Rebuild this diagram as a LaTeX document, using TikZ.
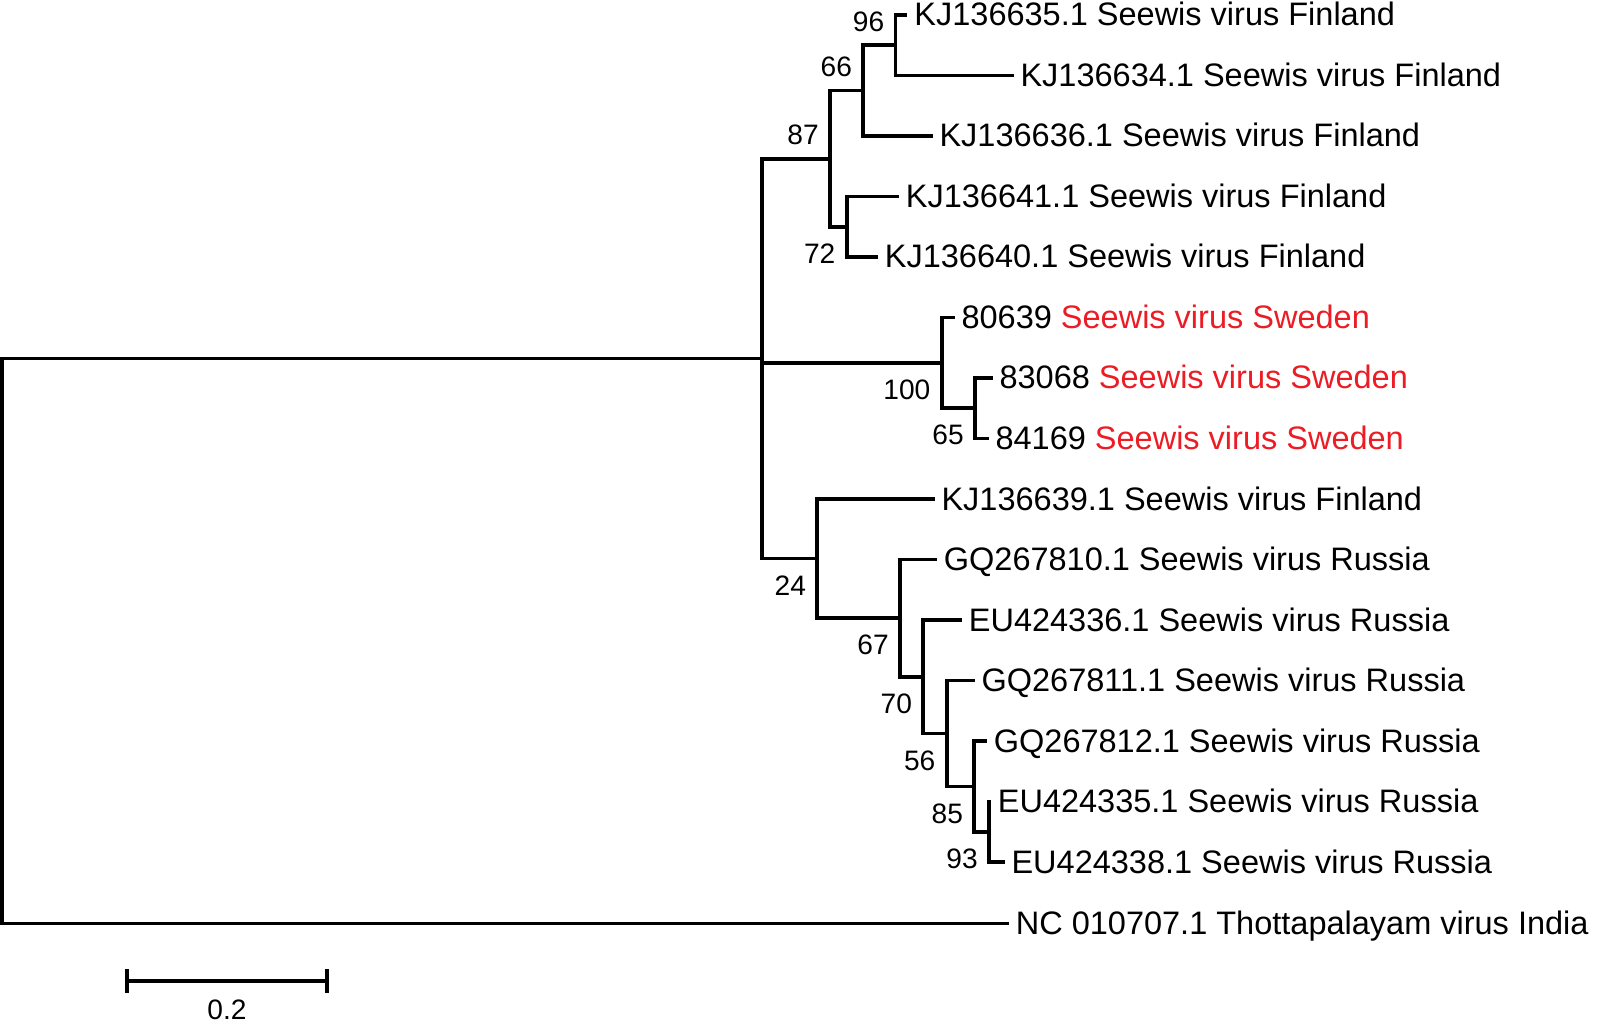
\documentclass[tikz,border=0pt]{standalone}
\usepackage{fontspec}
\setmainfont{Liberation Sans}
\definecolor{swred}{RGB}{236,28,36}
\begin{document}
\begin{tikzpicture}[x=0.02cm,y=-0.02cm,
  branch/.style={draw=black, line width=2.1pt, line cap=rect, line join=miter},
  taxon/.style={anchor=base west, inner sep=0pt, font=\fontsize{18.5pt}{22pt}\selectfont, xshift=0.17cm, yshift=-0.22cm},
  bsup/.style={anchor=base east, inner sep=0pt, font=\fontsize{16pt}{19pt}\selectfont, xshift=-0.22cm, yshift=0.28cm},
  bsdown/.style={anchor=base east, inner sep=0pt, font=\fontsize{16pt}{19pt}\selectfont, xshift=-0.22cm, yshift=-0.735cm}]
\useasboundingbox (0,0) rectangle (1600,1024);
% internal nodes
\coordinate (root) at (2,641);
\coordinate (nA) at (762.3,358.62);
\coordinate (n87) at (830,158.69);
\coordinate (n66) at (863.3,90.625);
\coordinate (n96) at (895.5,45.25);
\coordinate (n72) at (846.7,226.75);
\coordinate (n100) at (941.7,362.875);
\coordinate (n65) at (975,408.25);
\coordinate (n24) at (817.3,558.55);
\coordinate (n67) at (900,618.11);
\coordinate (n70) at (923.3,676.72);
\coordinate (n56) at (946.7,733.44);
\coordinate (n85) at (974.3,786.375);
\coordinate (n93) at (989,831.75);
% tips
\coordinate (t1) at (905.6,15);
\coordinate (t2) at (1011.7,75.5);
\coordinate (t3) at (930.7,136);
\coordinate (t4) at (897,196.5);
\coordinate (t5) at (876,257);
\coordinate (t6) at (952.7,317.5);
\coordinate (t7) at (990.7,378);
\coordinate (t8) at (986.7,438.5);
\coordinate (t9) at (932.7,499);
\coordinate (t10) at (935,559.5);
\coordinate (t11) at (960,620);
\coordinate (t12) at (972.7,680.5);
\coordinate (t13) at (985,741);
\coordinate (t14) at (989,801.5);
\coordinate (t15) at (1002.7,862);
\coordinate (t16) at (1007,923.5);
% branches
\draw[branch] (root) |- (nA);
\draw[branch] (root) |- (t16);
\draw[branch] (nA) |- (n87);
\draw[branch] (nA) |- (n100);
\draw[branch] (nA) |- (n24);
\draw[branch] (n87) |- (n66);
\draw[branch] (n87) |- (n72);
\draw[branch] (n66) |- (n96);
\draw[branch] (n66) |- (t3);
\draw[branch] (n96) |- (t1);
\draw[branch] (n96) |- (t2);
\draw[branch] (n72) |- (t4);
\draw[branch] (n72) |- (t5);
\draw[branch] (n100) |- (t6);
\draw[branch] (n100) |- (n65);
\draw[branch] (n65) |- (t7);
\draw[branch] (n65) |- (t8);
\draw[branch] (n24) |- (t9);
\draw[branch] (n24) |- (n67);
\draw[branch] (n67) |- (t10);
\draw[branch] (n67) |- (n70);
\draw[branch] (n70) |- (t11);
\draw[branch] (n70) |- (n56);
\draw[branch] (n56) |- (t12);
\draw[branch] (n56) |- (n85);
\draw[branch] (n85) |- (t13);
\draw[branch] (n85) |- (n93);
\draw[branch] (n93) |- (t14);
\draw[branch] (n93) |- (t15);
% taxon labels
\node[taxon] (l1) at (t1) {KJ136635.1 Seewis virus Finland};
\node[taxon] (l2) at (t2) {KJ136634.1 Seewis virus Finland};
\node[taxon] (l3) at (t3) {KJ136636.1 Seewis virus Finland};
\node[taxon] (l4) at (t4) {KJ136641.1 Seewis virus Finland};
\node[taxon] (l5) at (t5) {KJ136640.1 Seewis virus Finland};
\node[taxon] (l6) at (t6) {80639 \textcolor{swred}{Seewis virus Sweden}};
\node[taxon] (l7) at (t7) {83068 \textcolor{swred}{Seewis virus Sweden}};
\node[taxon] (l8) at (t8) {84169 \textcolor{swred}{Seewis virus Sweden}};
\node[taxon] (l9) at (t9) {KJ136639.1 Seewis virus Finland};
\node[taxon] (l10) at (t10) {GQ267810.1 Seewis virus Russia};
\node[taxon] (l11) at (t11) {EU424336.1 Seewis virus Russia};
\node[taxon] (l12) at (t12) {GQ267811.1 Seewis virus Russia};
\node[taxon] (l13) at (t13) {GQ267812.1 Seewis virus Russia};
\node[taxon] (l14) at (t14) {EU424335.1 Seewis virus Russia};
\node[taxon] (l15) at (t15) {EU424338.1 Seewis virus Russia};
\node[taxon] (l16) at (t16) {NC 010707.1 Thottapalayam virus India};
% bootstrap values
\node[bsup] (b96) at (n96) {96};
\node[bsup] (b66) at (n66) {66};
\node[bsup] (b87) at (n87) {87};
\node[bsdown] (b72) at (n72) {72};
\node[bsdown] (b100) at (n100) {100};
\node[bsdown] (b65) at (n65) {65};
\node[bsdown] (b24) at (n24) {24};
\node[bsdown] (b67) at (n67) {67};
\node[bsdown] (b70) at (n70) {70};
\node[bsdown] (b56) at (n56) {56};
\node[bsdown] (b85) at (n85) {85};
\node[bsdown] (b93) at (n93) {93};
% scale bar
\coordinate (sbL) at (126.7,981);
\coordinate (sbR) at (326.7,981);
\coordinate (sbLt) at (126.7,971);
\coordinate (sbLb) at (126.7,991);
\coordinate (sbRt) at (326.7,971);
\coordinate (sbRb) at (326.7,991);
\draw[branch, line cap=butt] (sbL) -- (sbR);
\draw[branch] (sbLt) -- (sbLb);
\draw[branch] (sbRt) -- (sbRb);
\node[anchor=base, inner sep=0pt, font=\fontsize{16pt}{19pt}\selectfont] (sblab) at (227,1019) {0.2};
\end{tikzpicture}
\end{document}
